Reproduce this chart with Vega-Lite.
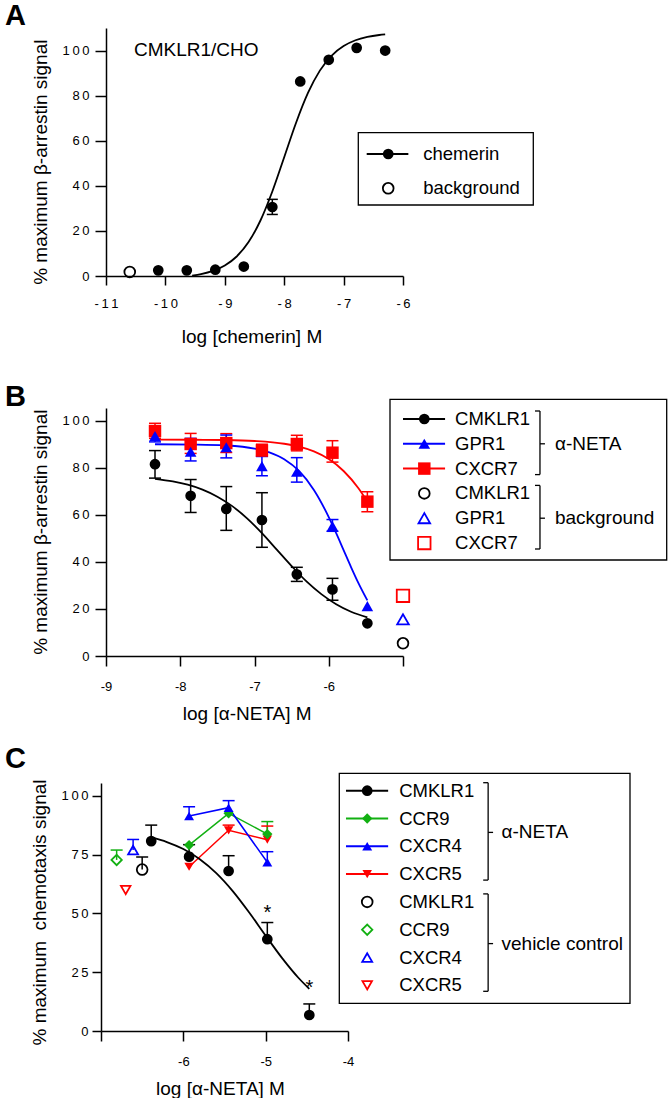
{
"$schema": "https://vega.github.io/schema/vega-lite/v6.json",
"background": "white",
"padding": {"left": 5, "top": 2, "right": 0, "bottom": 0},
"config": {
  "font": "Liberation Sans",
  "view": {"stroke": null},
  "axis": {"grid": false, "domainColor": "black", "domainWidth": 1.5, "tickColor": "black", "tickWidth": 1.5, "labelColor": "black", "labelFont": "Liberation Sans", "labelFontSize": 13, "titleColor": "black", "titleFont": "Liberation Sans", "titleFontSize": 19, "titleFontWeight": "normal", "labelOverlap": false, "labelFlush": false, "labelBound": false},
  "title": {"font": "Liberation Sans", "fontSize": 29, "fontWeight": "bold", "color": "black", "anchor": "start", "frame": "group", "baseline": "alphabetic"},
  "text": {"font": "Liberation Sans", "color": "black"}
},
"datasets": {
  "A_pts": [{"logc": -10.12, "pct": 2.5}, {"logc": -9.64, "pct": 2.5}, {"logc": -9.16, "pct": 2.8}, {"logc": -8.68, "pct": 4.2}, {"logc": -8.2, "pct": 30.6, "lo": 27.3, "hi": 34.0}, {"logc": -7.73, "pct": 86.3}, {"logc": -7.25, "pct": 95.9}, {"logc": -6.78, "pct": 101.2}, {"logc": -6.3, "pct": 100.0}],
  "A_bg": [{"logc": -10.6, "pct": 1.8}],
  "A_note": [{"logc": -10.53, "pct": 100.4, "note": "CMKLR1/CHO"}],
  "A_fit": [{"logc": -9.55, "pct": 0.21}, {"logc": -9.4, "pct": 0.85}, {"logc": -9.2, "pct": 2.25}, {"logc": -9.0, "pct": 4.65}, {"logc": -8.8, "pct": 8.65}, {"logc": -8.6, "pct": 15.05}, {"logc": -8.4, "pct": 24.62}, {"logc": -8.2, "pct": 37.5}, {"logc": -8.0, "pct": 52.7}, {"logc": -7.8, "pct": 68.0}, {"logc": -7.6, "pct": 81.2}, {"logc": -7.4, "pct": 91.1}, {"logc": -7.2, "pct": 97.8}, {"logc": -7.0, "pct": 102.0}, {"logc": -6.8, "pct": 104.56}, {"logc": -6.6, "pct": 106.04}, {"logc": -6.4, "pct": 106.89}, {"logc": -6.3, "pct": 107.16}],
  "A_leg": [{"series": "chemerin", "kind": "drug", "row": 0}, {"series": "background", "kind": "control", "row": 1}],
  "B_pts": [
    {"receptor": "CXCR7", "logc": -8.34, "pct": 95.6, "lo": 92.5, "hi": 98.9},
    {"receptor": "CXCR7", "logc": -7.86, "pct": 90.1, "lo": 86.1, "hi": 94.6},
    {"receptor": "CXCR7", "logc": -7.38, "pct": 90.5, "lo": 86.5, "hi": 94.5},
    {"receptor": "CXCR7", "logc": -6.9, "pct": 87.3, "lo": 85.0, "hi": 90.0},
    {"receptor": "CXCR7", "logc": -6.43, "pct": 90.1, "lo": 87.2, "hi": 93.8},
    {"receptor": "CXCR7", "logc": -5.95, "pct": 86.4, "lo": 82.4, "hi": 91.5},
    {"receptor": "CXCR7", "logc": -5.48, "pct": 65.6, "lo": 61.3, "hi": 69.8},
    {"receptor": "GPR1", "logc": -8.34, "pct": 93.5, "lo": 91.0, "hi": 96.5},
    {"receptor": "GPR1", "logc": -7.86, "pct": 86.8, "lo": 82.9, "hi": 92.5},
    {"receptor": "GPR1", "logc": -7.38, "pct": 88.7, "lo": 84.2, "hi": 93.9},
    {"receptor": "GPR1", "logc": -6.9, "pct": 80.7, "lo": 76.6, "hi": 84.8},
    {"receptor": "GPR1", "logc": -6.43, "pct": 78.3, "lo": 73.9, "hi": 84.3},
    {"receptor": "GPR1", "logc": -5.95, "pct": 55.2, "lo": 53.0, "hi": 58.0},
    {"receptor": "GPR1", "logc": -5.48, "pct": 21.2},
    {"receptor": "CMKLR1", "logc": -8.34, "pct": 81.5, "lo": 75.6, "hi": 87.3},
    {"receptor": "CMKLR1", "logc": -7.86, "pct": 68.1, "lo": 61.0, "hi": 75.0},
    {"receptor": "CMKLR1", "logc": -7.38, "pct": 62.5, "lo": 53.4, "hi": 72.0},
    {"receptor": "CMKLR1", "logc": -6.9, "pct": 57.8, "lo": 46.2, "hi": 69.4},
    {"receptor": "CMKLR1", "logc": -6.43, "pct": 34.7, "lo": 31.7, "hi": 37.7},
    {"receptor": "CMKLR1", "logc": -5.95, "pct": 28.3, "lo": 23.7, "hi": 33.0},
    {"receptor": "CMKLR1", "logc": -5.48, "pct": 13.9}
  ],
  "B_fit": [
    {"receptor": "CXCR7", "logc": -8.34, "pct": 92.0}, {"receptor": "CXCR7", "logc": -7.8, "pct": 91.9}, {"receptor": "CXCR7", "logc": -7.4, "pct": 91.79}, {"receptor": "CXCR7", "logc": -7.0, "pct": 91.38}, {"receptor": "CXCR7", "logc": -6.6, "pct": 90.21}, {"receptor": "CXCR7", "logc": -6.4, "pct": 88.97}, {"receptor": "CXCR7", "logc": -6.2, "pct": 86.95}, {"receptor": "CXCR7", "logc": -6.0, "pct": 83.69}, {"receptor": "CXCR7", "logc": -5.8, "pct": 78.63}, {"receptor": "CXCR7", "logc": -5.6, "pct": 71.28}, {"receptor": "CXCR7", "logc": -5.48, "pct": 65.6},
    {"receptor": "GPR1", "logc": -8.34, "pct": 90.0}, {"receptor": "GPR1", "logc": -7.8, "pct": 89.86}, {"receptor": "GPR1", "logc": -7.4, "pct": 89.49}, {"receptor": "GPR1", "logc": -7.0, "pct": 88.16}, {"receptor": "GPR1", "logc": -6.8, "pct": 86.55}, {"receptor": "GPR1", "logc": -6.6, "pct": 83.65}, {"receptor": "GPR1", "logc": -6.4, "pct": 78.63}, {"receptor": "GPR1", "logc": -6.2, "pct": 70.57}, {"receptor": "GPR1", "logc": -6.0, "pct": 59.03}, {"receptor": "GPR1", "logc": -5.9, "pct": 52.19}, {"receptor": "GPR1", "logc": -5.8, "pct": 45.0}, {"receptor": "GPR1", "logc": -5.7, "pct": 37.8}, {"receptor": "GPR1", "logc": -5.6, "pct": 30.98}, {"receptor": "GPR1", "logc": -5.48, "pct": 23.65},
    {"receptor": "CMKLR1", "logc": -8.34, "pct": 75.3}, {"receptor": "CMKLR1", "logc": -8.1, "pct": 74.2}, {"receptor": "CMKLR1", "logc": -7.9, "pct": 72.8}, {"receptor": "CMKLR1", "logc": -7.7, "pct": 70.7}, {"receptor": "CMKLR1", "logc": -7.5, "pct": 67.7}, {"receptor": "CMKLR1", "logc": -7.3, "pct": 63.7}, {"receptor": "CMKLR1", "logc": -7.1, "pct": 58.5}, {"receptor": "CMKLR1", "logc": -6.9, "pct": 52.2}, {"receptor": "CMKLR1", "logc": -6.7, "pct": 45.2}, {"receptor": "CMKLR1", "logc": -6.5, "pct": 38.2}, {"receptor": "CMKLR1", "logc": -6.3, "pct": 31.7}, {"receptor": "CMKLR1", "logc": -6.1, "pct": 26.3}, {"receptor": "CMKLR1", "logc": -5.9, "pct": 22.0}, {"receptor": "CMKLR1", "logc": -5.7, "pct": 18.8}, {"receptor": "CMKLR1", "logc": -5.48, "pct": 16.4}
  ],
  "B_bg": [{"receptor": "CMKLR1", "logc": -5, "pct": 5.4}, {"receptor": "GPR1", "logc": -5, "pct": 15.6}, {"receptor": "CXCR7", "logc": -5, "pct": 25.6}],
  "B_leg": [{"receptor": "CMKLR1", "kind": "drug", "row": 0}, {"receptor": "GPR1", "kind": "drug", "row": 1}, {"receptor": "CXCR7", "kind": "drug", "row": 2}, {"receptor": "CMKLR1", "kind": "control", "row": 3}, {"receptor": "GPR1", "kind": "control", "row": 4}, {"receptor": "CXCR7", "kind": "control", "row": 5}],
  "B_grp": [{"group": "α-NETA", "first": 0, "last": 2, "mid": 1}, {"group": "background", "first": 3, "last": 5, "mid": 4}],
  "C_pts": [
    {"receptor": "CXCR5", "logc": -5.93, "pct": 69.8},
    {"receptor": "CXCR5", "logc": -5.45, "pct": 85.3, "hi": 87.5},
    {"receptor": "CXCR5", "logc": -4.98, "pct": 81.3, "hi": 87.1},
    {"receptor": "CCR9", "logc": -5.93, "pct": 79.0},
    {"receptor": "CCR9", "logc": -5.45, "pct": 92.5},
    {"receptor": "CCR9", "logc": -4.98, "pct": 83.7, "hi": 89.0},
    {"receptor": "CXCR4", "logc": -5.93, "pct": 91.4, "hi": 95.3},
    {"receptor": "CXCR4", "logc": -5.45, "pct": 94.9, "hi": 97.9},
    {"receptor": "CXCR4", "logc": -4.98, "pct": 71.7, "hi": 76.2},
    {"receptor": "CMKLR1", "logc": -6.39, "pct": 80.7, "hi": 87.5},
    {"receptor": "CMKLR1", "logc": -5.93, "pct": 74.1, "hi": 79.2},
    {"receptor": "CMKLR1", "logc": -5.45, "pct": 68.0, "hi": 74.5},
    {"receptor": "CMKLR1", "logc": -4.98, "pct": 39.0, "hi": 46.1},
    {"receptor": "CMKLR1", "logc": -4.47, "pct": 6.8, "hi": 11.5}
  ],
  "C_veh": [{"receptor": "CCR9", "logc": -6.81, "pct": 72.7, "hi": 76.9}, {"receptor": "CXCR5", "logc": -6.7, "pct": 59.9}, {"receptor": "CXCR4", "logc": -6.61, "pct": 76.9, "hi": 81.4}, {"receptor": "CMKLR1", "logc": -6.5, "pct": 68.6, "hi": 74.0}],
  "C_fit": [{"logc": -6.39, "pct": 82.24}, {"logc": -6.2, "pct": 80.31}, {"logc": -6.0, "pct": 77.32}, {"logc": -5.8, "pct": 73.02}, {"logc": -5.6, "pct": 67.09}, {"logc": -5.4, "pct": 59.45}, {"logc": -5.2, "pct": 50.35}, {"logc": -5.0, "pct": 40.53}, {"logc": -4.8, "pct": 30.96}, {"logc": -4.6, "pct": 22.52}, {"logc": -4.47, "pct": 17.91}],
  "C_sig": [{"logc": -4.98, "pct": 52.3, "sig": "*"}, {"logc": -4.47, "pct": 20.3, "sig": "*"}],
  "C_leg": [{"receptor": "CMKLR1", "kind": "drug", "row": 0}, {"receptor": "CCR9", "kind": "drug", "row": 1}, {"receptor": "CXCR4", "kind": "drug", "row": 2}, {"receptor": "CXCR5", "kind": "drug", "row": 3}, {"receptor": "CMKLR1", "kind": "control", "row": 4}, {"receptor": "CCR9", "kind": "control", "row": 5}, {"receptor": "CXCR4", "kind": "control", "row": 6}, {"receptor": "CXCR5", "kind": "control", "row": 7}],
  "C_grp": [{"group": "α-NETA", "first": 0, "last": 3, "mid": 1.5}, {"group": "vehicle control", "first": 4, "last": 7, "mid": 5.5}],
  "frame": [{"frame": "legend"}]
},
"bounds": "flush",
"spacing": 130,
"resolve": {"scale": {"color": "independent", "shape": "independent", "size": "independent"}},
"vconcat": [
{
  "width": 297, "height": 248,
  "title": {"text": "A", "dx": -101, "offset": -3},
  "resolve": {"scale": {"x": "independent", "y": "independent"}},
  "layer": [
    {"layer": [
      {"data": {"name": "A_pts"}, "transform": [{"filter": "isValid(datum.hi)"}],
       "mark": {"type": "rule", "color": "black", "strokeWidth": 1.5},
       "encoding": {
         "x": {"field": "logc", "type": "quantitative", "scale": {"domain": [-11, -6], "nice": false, "zero": false}, "axis": {"values": [-11, -10, -9, -8, -7, -6], "tickSize": 9, "labelPadding": 12, "title": "log [chemerin] M", "titleX": 145.5, "titleY": 51, "labelExpr": "join(split('' + datum.value, ''), '\u2009')"}},
         "y": {"field": "lo", "type": "quantitative", "scale": {"domain": [0, 110], "nice": false, "zero": false}, "axis": {"values": [0, 20, 40, 60, 80, 100], "tickSize": 11, "labelPadding": 6, "title": "% maximum β-arrestin signal", "titleX": -56, "titleY": 133.7, "labelExpr": "join(split('' + datum.value, ''), '\u2009')"}},
         "y2": {"field": "hi"}}},
      {"data": {"name": "A_pts"}, "transform": [{"filter": "isValid(datum.hi)"}],
       "mark": {"type": "tick", "orient": "horizontal", "color": "black", "size": 11, "thickness": 1.5, "opacity": 1},
       "encoding": {"x": {"field": "logc", "type": "quantitative"}, "y": {"field": "lo", "type": "quantitative"}}},
      {"data": {"name": "A_pts"}, "transform": [{"filter": "isValid(datum.hi)"}],
       "mark": {"type": "tick", "orient": "horizontal", "color": "black", "size": 11, "thickness": 1.5, "opacity": 1},
       "encoding": {"x": {"field": "logc", "type": "quantitative"}, "y": {"field": "hi", "type": "quantitative"}}},
      {"data": {"name": "A_fit"},
       "mark": {"type": "line", "color": "black", "strokeWidth": 1.8, "interpolate": "monotone"},
       "encoding": {"x": {"field": "logc", "type": "quantitative"}, "y": {"field": "pct", "type": "quantitative"}}},
      {"data": {"name": "A_pts"},
       "mark": {"type": "point", "shape": "circle", "filled": true, "color": "black", "size": 115, "opacity": 1},
       "encoding": {"x": {"field": "logc", "type": "quantitative"}, "y": {"field": "pct", "type": "quantitative"}}},
      {"data": {"name": "A_bg"},
       "mark": {"type": "point", "shape": "circle", "filled": false, "color": "black", "size": 115, "strokeWidth": 1.8, "opacity": 1},
       "encoding": {"x": {"field": "logc", "type": "quantitative"}, "y": {"field": "pct", "type": "quantitative"}}},
      {"data": {"name": "A_note"},
       "mark": {"type": "text", "align": "left", "baseline": "middle", "fontSize": 19},
       "encoding": {"x": {"field": "logc", "type": "quantitative"}, "y": {"field": "pct", "type": "quantitative"}, "text": {"field": "note"}}}
    ]},
    {"layer": [
      {"data": {"name": "frame"},
       "mark": {"type": "rect", "fill": "white", "stroke": "black", "strokeWidth": 1.3},
       "encoding": {
         "x": {"datum": 0, "type": "quantitative", "scale": {"domain": [0, 1], "range": [252.3, 427.3], "nice": false, "zero": false}, "axis": null},
         "x2": {"datum": 1},
         "y": {"datum": -0.621, "type": "quantitative", "scale": {"domain": [0, 1], "range": [126, 160.3], "nice": false, "zero": false}, "axis": null},
         "y2": {"datum": 1.487}}},
      {"data": {"name": "A_leg"}, "transform": [{"filter": "datum.kind == 'drug'"}],
       "mark": {"type": "rule", "color": "black", "strokeWidth": 2},
       "encoding": {"x": {"datum": 0.048, "type": "quantitative", "axis": null}, "x2": {"datum": 0.286}, "y": {"field": "row", "type": "quantitative", "axis": null}}},
      {"data": {"name": "A_leg"}, "transform": [{"filter": "datum.kind == 'drug'"}],
       "mark": {"type": "point", "shape": "circle", "filled": true, "color": "black", "size": 115, "opacity": 1},
       "encoding": {"x": {"datum": 0.171, "type": "quantitative", "axis": null}, "y": {"field": "row", "type": "quantitative", "axis": null}}},
      {"data": {"name": "A_leg"}, "transform": [{"filter": "datum.kind == 'control'"}],
       "mark": {"type": "point", "shape": "circle", "filled": false, "color": "black", "size": 115, "strokeWidth": 1.8, "opacity": 1},
       "encoding": {"x": {"datum": 0.171, "type": "quantitative", "axis": null}, "y": {"field": "row", "type": "quantitative", "axis": null}}},
      {"data": {"name": "A_leg"},
       "mark": {"type": "text", "align": "left", "baseline": "middle", "fontSize": 18.5},
       "encoding": {"x": {"datum": 0.371, "type": "quantitative", "axis": null}, "y": {"field": "row", "type": "quantitative", "axis": null}, "text": {"field": "series"}}}
    ]}
  ]
},
{
  "width": 297, "height": 250,
  "title": {"text": "B", "dx": -101, "offset": -13},
  "resolve": {"scale": {"x": "independent", "y": "independent"}},
  "layer": [
    {"layer": [
      {"data": {"name": "B_pts"}, "transform": [{"filter": "isValid(datum.hi)"}],
       "mark": {"type": "rule", "strokeWidth": 1.5},
       "encoding": {
         "x": {"field": "logc", "type": "quantitative", "scale": {"domain": [-9, -5], "nice": false, "zero": false}, "axis": {"values": [-9, -8, -7, -6, -5], "tickSize": 10, "labelPadding": 14, "title": "log [α-NETA] M", "titleX": 140.7, "titleY": 48, "labelExpr": "datum.value == -5 ? '' : '' + datum.value"}},
         "y": {"field": "lo", "type": "quantitative", "scale": {"domain": [0, 105.4], "range": [250, 2], "nice": false, "zero": false}, "axis": {"values": [0, 20, 40, 60, 80, 100], "tickSize": 11, "labelPadding": 6, "title": "% maximum β-arrestin signal", "titleX": -56, "titleY": 125.7, "labelExpr": "join(split('' + datum.value, ''), '\u2009')"}},
         "y2": {"field": "hi"},
         "color": {"field": "receptor", "type": "nominal", "scale": {"domain": ["CMKLR1", "GPR1", "CXCR7"], "range": ["#000000", "#0000ff", "#ff0000"]}, "legend": null}}},
      {"data": {"name": "B_pts"}, "transform": [{"filter": "isValid(datum.hi)"}],
       "mark": {"type": "tick", "orient": "horizontal", "size": 12, "thickness": 1.5, "opacity": 1},
       "encoding": {"x": {"field": "logc", "type": "quantitative"}, "y": {"field": "lo", "type": "quantitative"}, "color": {"field": "receptor", "type": "nominal", "legend": null}}},
      {"data": {"name": "B_pts"}, "transform": [{"filter": "isValid(datum.hi)"}],
       "mark": {"type": "tick", "orient": "horizontal", "size": 12, "thickness": 1.5, "opacity": 1},
       "encoding": {"x": {"field": "logc", "type": "quantitative"}, "y": {"field": "hi", "type": "quantitative"}, "color": {"field": "receptor", "type": "nominal", "legend": null}}},
      {"data": {"name": "B_fit"},
       "mark": {"type": "line", "strokeWidth": 1.8, "interpolate": "monotone"},
       "encoding": {"x": {"field": "logc", "type": "quantitative"}, "y": {"field": "pct", "type": "quantitative"}, "color": {"field": "receptor", "type": "nominal", "legend": null}}},
      {"data": {"name": "B_pts"},
       "mark": {"type": "point", "filled": true, "opacity": 1},
       "encoding": {"x": {"field": "logc", "type": "quantitative"}, "y": {"field": "pct", "type": "quantitative"}, "color": {"field": "receptor", "type": "nominal", "legend": null},
         "shape": {"field": "receptor", "type": "nominal", "scale": {"domain": ["CMKLR1", "GPR1", "CXCR7"], "range": ["circle", "triangle-up", "square"]}, "legend": null},
         "size": {"field": "receptor", "type": "nominal", "scale": {"domain": ["CMKLR1", "GPR1", "CXCR7"], "range": [115, 155, 105]}, "legend": null}}},
      {"data": {"name": "B_bg"},
       "mark": {"type": "point", "filled": false, "strokeWidth": 1.8, "opacity": 1},
       "encoding": {"x": {"field": "logc", "type": "quantitative"}, "y": {"field": "pct", "type": "quantitative"}, "color": {"field": "receptor", "type": "nominal", "legend": null}, "shape": {"field": "receptor", "type": "nominal", "legend": null}, "size": {"field": "receptor", "type": "nominal", "legend": null}}}
    ]},
    {"layer": [
      {"data": {"name": "frame"},
       "mark": {"type": "rect", "fill": "white", "stroke": "black", "strokeWidth": 1.3},
       "encoding": {
         "x": {"datum": 0, "type": "quantitative", "scale": {"domain": [0, 1], "range": [284, 560.7], "nice": false, "zero": false}, "axis": null},
         "x2": {"datum": 1},
         "y": {"datum": -0.794, "type": "quantitative", "scale": {"domain": [0, 5], "range": [13, 137], "nice": false, "zero": false}, "axis": null},
         "y2": {"datum": 5.685}}},
      {"data": {"name": "B_leg"}, "transform": [{"filter": "datum.kind == 'drug'"}],
       "mark": {"type": "rule", "strokeWidth": 2},
       "encoding": {"x": {"datum": 0.047, "type": "quantitative", "axis": null}, "x2": {"datum": 0.199}, "y": {"field": "row", "type": "quantitative", "axis": null}, "color": {"field": "receptor", "type": "nominal", "legend": null}}},
      {"data": {"name": "B_leg"}, "transform": [{"filter": "datum.kind == 'drug'"}],
       "mark": {"type": "point", "filled": true, "opacity": 1},
       "encoding": {"x": {"datum": 0.124, "type": "quantitative", "axis": null}, "y": {"field": "row", "type": "quantitative", "axis": null}, "color": {"field": "receptor", "type": "nominal", "legend": null}, "shape": {"field": "receptor", "type": "nominal", "legend": null}, "size": {"field": "receptor", "type": "nominal", "legend": null}}},
      {"data": {"name": "B_leg"}, "transform": [{"filter": "datum.kind == 'control'"}],
       "mark": {"type": "point", "filled": false, "strokeWidth": 1.8, "opacity": 1},
       "encoding": {"x": {"datum": 0.124, "type": "quantitative", "axis": null}, "y": {"field": "row", "type": "quantitative", "axis": null}, "color": {"field": "receptor", "type": "nominal", "legend": null}, "shape": {"field": "receptor", "type": "nominal", "legend": null}, "size": {"field": "receptor", "type": "nominal", "legend": null}}},
      {"data": {"name": "B_leg"},
       "mark": {"type": "text", "align": "left", "baseline": "middle", "fontSize": 18.5, "color": "black"},
       "encoding": {"x": {"datum": 0.235, "type": "quantitative", "axis": null}, "y": {"field": "row", "type": "quantitative", "axis": null}, "text": {"field": "receptor"}}},
      {"data": {"name": "B_grp"},
       "mark": {"type": "rule", "color": "black", "strokeWidth": 1.3, "yOffset": -8, "y2Offset": 6},
       "encoding": {"x": {"datum": 0.542, "type": "quantitative", "axis": null}, "y": {"field": "first", "type": "quantitative", "axis": null}, "y2": {"field": "last"}}},
      {"data": {"name": "B_grp"},
       "mark": {"type": "rule", "color": "black", "strokeWidth": 1.3, "yOffset": -8},
       "encoding": {"x": {"datum": 0.524, "type": "quantitative", "axis": null}, "x2": {"datum": 0.542}, "y": {"field": "first", "type": "quantitative", "axis": null}}},
      {"data": {"name": "B_grp"},
       "mark": {"type": "rule", "color": "black", "strokeWidth": 1.3, "yOffset": 6},
       "encoding": {"x": {"datum": 0.524, "type": "quantitative", "axis": null}, "x2": {"datum": 0.542}, "y": {"field": "last", "type": "quantitative", "axis": null}}},
      {"data": {"name": "B_grp"},
       "mark": {"type": "rule", "color": "black", "strokeWidth": 1.3},
       "encoding": {"x": {"datum": 0.542, "type": "quantitative", "axis": null}, "x2": {"datum": 0.56}, "y": {"field": "mid", "type": "quantitative", "axis": null}}},
      {"data": {"name": "B_grp"},
       "mark": {"type": "text", "align": "left", "baseline": "middle", "fontSize": 19, "color": "black"},
       "encoding": {"x": {"datum": 0.596, "type": "quantitative", "axis": null}, "y": {"field": "mid", "type": "quantitative", "axis": null}, "text": {"field": "group"}}}
    ]}
  ]
},
{
  "width": 242, "height": 245,
  "title": {"text": "C", "dx": -101, "offset": -1},
  "resolve": {"scale": {"x": "independent", "y": "independent"}},
  "layer": [
    {"layer": [
      {"data": {"name": "C_pts"}, "transform": [{"filter": "isValid(datum.hi)"}],
       "mark": {"type": "rule", "strokeWidth": 1.5},
       "encoding": {
         "x": {"field": "logc", "type": "quantitative", "scale": {"domain": [-7, -4], "range": [-5, 242], "nice": false, "zero": false}, "axis": {"values": [-7, -6, -5, -4], "tickSize": 10, "labelPadding": 14, "title": "log [α-NETA] M", "titleX": 114, "titleY": 48, "labelExpr": "datum.value == -7 ? '' : '' + datum.value"}},
         "y": {"field": "pct", "type": "quantitative", "scale": {"domain": [0, 105.4], "range": [245, -3], "nice": false, "zero": false}, "axis": {"values": [0, 25, 50, 75, 100], "offset": 5, "tickSize": 9, "labelPadding": 4, "title": "% maximum\u00a0 chemotaxis signal", "titleX": -52, "titleY": 126, "labelExpr": "join(split('' + datum.value, ''), '\u2009')"}},
         "y2": {"field": "hi"},
         "color": {"field": "receptor", "type": "nominal", "scale": {"domain": ["CMKLR1", "CCR9", "CXCR4", "CXCR5"], "range": ["#000000", "#12b012", "#0000ff", "#ff0000"]}, "legend": null}}},
      {"data": {"name": "C_pts"}, "transform": [{"filter": "isValid(datum.hi)"}],
       "mark": {"type": "tick", "orient": "horizontal", "size": 12, "thickness": 1.5, "opacity": 1},
       "encoding": {"x": {"field": "logc", "type": "quantitative"}, "y": {"field": "hi", "type": "quantitative"}, "color": {"field": "receptor", "type": "nominal", "legend": null}}},
      {"data": {"name": "C_veh"}, "transform": [{"filter": "isValid(datum.hi)"}],
       "mark": {"type": "rule", "strokeWidth": 1.5},
       "encoding": {"x": {"field": "logc", "type": "quantitative"}, "y": {"field": "pct", "type": "quantitative"}, "y2": {"field": "hi"}, "color": {"field": "receptor", "type": "nominal", "legend": null}}},
      {"data": {"name": "C_veh"}, "transform": [{"filter": "isValid(datum.hi)"}],
       "mark": {"type": "tick", "orient": "horizontal", "size": 12, "thickness": 1.5, "opacity": 1},
       "encoding": {"x": {"field": "logc", "type": "quantitative"}, "y": {"field": "hi", "type": "quantitative"}, "color": {"field": "receptor", "type": "nominal", "legend": null}}},
      {"data": {"name": "C_pts"}, "transform": [{"filter": "datum.receptor != 'CMKLR1'"}],
       "mark": {"type": "line", "strokeWidth": 1.5},
       "encoding": {"x": {"field": "logc", "type": "quantitative"}, "y": {"field": "pct", "type": "quantitative"}, "color": {"field": "receptor", "type": "nominal", "legend": null}}},
      {"data": {"name": "C_fit"},
       "mark": {"type": "line", "color": "black", "strokeWidth": 1.8, "interpolate": "monotone"},
       "encoding": {"x": {"field": "logc", "type": "quantitative"}, "y": {"field": "pct", "type": "quantitative"}}},
      {"data": {"name": "C_pts"},
       "mark": {"type": "point", "filled": true, "opacity": 1},
       "encoding": {"x": {"field": "logc", "type": "quantitative"}, "y": {"field": "pct", "type": "quantitative"}, "color": {"field": "receptor", "type": "nominal", "legend": null},
         "shape": {"field": "receptor", "type": "nominal", "scale": {"domain": ["CMKLR1", "CCR9", "CXCR4", "CXCR5"], "range": ["circle", "diamond", "triangle-up", "triangle-down"]}, "legend": null},
         "size": {"field": "receptor", "type": "nominal", "scale": {"domain": ["CMKLR1", "CCR9", "CXCR4", "CXCR5"], "range": [115, 90, 155, 155]}, "legend": null}}},
      {"data": {"name": "C_veh"},
       "mark": {"type": "point", "filled": false, "strokeWidth": 1.8, "opacity": 1},
       "encoding": {"x": {"field": "logc", "type": "quantitative"}, "y": {"field": "pct", "type": "quantitative"}, "color": {"field": "receptor", "type": "nominal", "legend": null}, "shape": {"field": "receptor", "type": "nominal", "legend": null}, "size": {"field": "receptor", "type": "nominal", "legend": null}}},
      {"data": {"name": "C_sig"},
       "mark": {"type": "text", "align": "center", "baseline": "middle", "fontSize": 20, "dy": 5, "color": "black"},
       "encoding": {"x": {"field": "logc", "type": "quantitative"}, "y": {"field": "pct", "type": "quantitative"}, "text": {"field": "sig"}}}
    ]},
    {"layer": [
      {"data": {"name": "frame"},
       "mark": {"type": "rect", "fill": "white", "stroke": "black", "strokeWidth": 1.3},
       "encoding": {
         "x": {"datum": 0, "type": "quantitative", "scale": {"domain": [0, 1], "range": [233.3, 524], "nice": false, "zero": false}, "axis": null},
         "x2": {"datum": 1},
         "y": {"datum": -0.626, "type": "quantitative", "scale": {"domain": [0, 7], "range": [4.7, 199.3], "nice": false, "zero": false}, "axis": null},
         "y2": {"datum": 7.647}}},
      {"data": {"name": "C_leg"}, "transform": [{"filter": "datum.kind == 'drug'"}],
       "mark": {"type": "rule", "strokeWidth": 2},
       "encoding": {"x": {"datum": 0.023, "type": "quantitative", "axis": null}, "x2": {"datum": 0.168}, "y": {"field": "row", "type": "quantitative", "axis": null}, "color": {"field": "receptor", "type": "nominal", "legend": null}}},
      {"data": {"name": "C_leg"}, "transform": [{"filter": "datum.kind == 'drug'"}],
       "mark": {"type": "point", "filled": true, "opacity": 1},
       "encoding": {"x": {"datum": 0.096, "type": "quantitative", "axis": null}, "y": {"field": "row", "type": "quantitative", "axis": null}, "color": {"field": "receptor", "type": "nominal", "legend": null}, "shape": {"field": "receptor", "type": "nominal", "legend": null}, "size": {"field": "receptor", "type": "nominal", "legend": null}}},
      {"data": {"name": "C_leg"}, "transform": [{"filter": "datum.kind == 'control'"}],
       "mark": {"type": "point", "filled": false, "strokeWidth": 1.8, "opacity": 1},
       "encoding": {"x": {"datum": 0.096, "type": "quantitative", "axis": null}, "y": {"field": "row", "type": "quantitative", "axis": null}, "color": {"field": "receptor", "type": "nominal", "legend": null}, "shape": {"field": "receptor", "type": "nominal", "legend": null}, "size": {"field": "receptor", "type": "nominal", "legend": null}}},
      {"data": {"name": "C_leg"},
       "mark": {"type": "text", "align": "left", "baseline": "middle", "fontSize": 18.5, "color": "black"},
       "encoding": {"x": {"datum": 0.206, "type": "quantitative", "axis": null}, "y": {"field": "row", "type": "quantitative", "axis": null}, "text": {"field": "receptor"}}},
      {"data": {"name": "C_grp"},
       "mark": {"type": "rule", "color": "black", "strokeWidth": 1.3, "yOffset": -8, "y2Offset": 6},
       "encoding": {"x": {"datum": 0.512, "type": "quantitative", "axis": null}, "y": {"field": "first", "type": "quantitative", "axis": null}, "y2": {"field": "last"}}},
      {"data": {"name": "C_grp"},
       "mark": {"type": "rule", "color": "black", "strokeWidth": 1.3, "yOffset": -8},
       "encoding": {"x": {"datum": 0.495, "type": "quantitative", "axis": null}, "x2": {"datum": 0.512}, "y": {"field": "first", "type": "quantitative", "axis": null}}},
      {"data": {"name": "C_grp"},
       "mark": {"type": "rule", "color": "black", "strokeWidth": 1.3, "yOffset": 6},
       "encoding": {"x": {"datum": 0.495, "type": "quantitative", "axis": null}, "x2": {"datum": 0.512}, "y": {"field": "last", "type": "quantitative", "axis": null}}},
      {"data": {"name": "C_grp"},
       "mark": {"type": "rule", "color": "black", "strokeWidth": 1.3},
       "encoding": {"x": {"datum": 0.512, "type": "quantitative", "axis": null}, "x2": {"datum": 0.529}, "y": {"field": "mid", "type": "quantitative", "axis": null}}},
      {"data": {"name": "C_grp"},
       "mark": {"type": "text", "align": "left", "baseline": "middle", "fontSize": 19, "color": "black"},
       "encoding": {"x": {"datum": 0.558, "type": "quantitative", "axis": null}, "y": {"field": "mid", "type": "quantitative", "axis": null}, "text": {"field": "group"}}}
    ]}
  ]
}
]
}
